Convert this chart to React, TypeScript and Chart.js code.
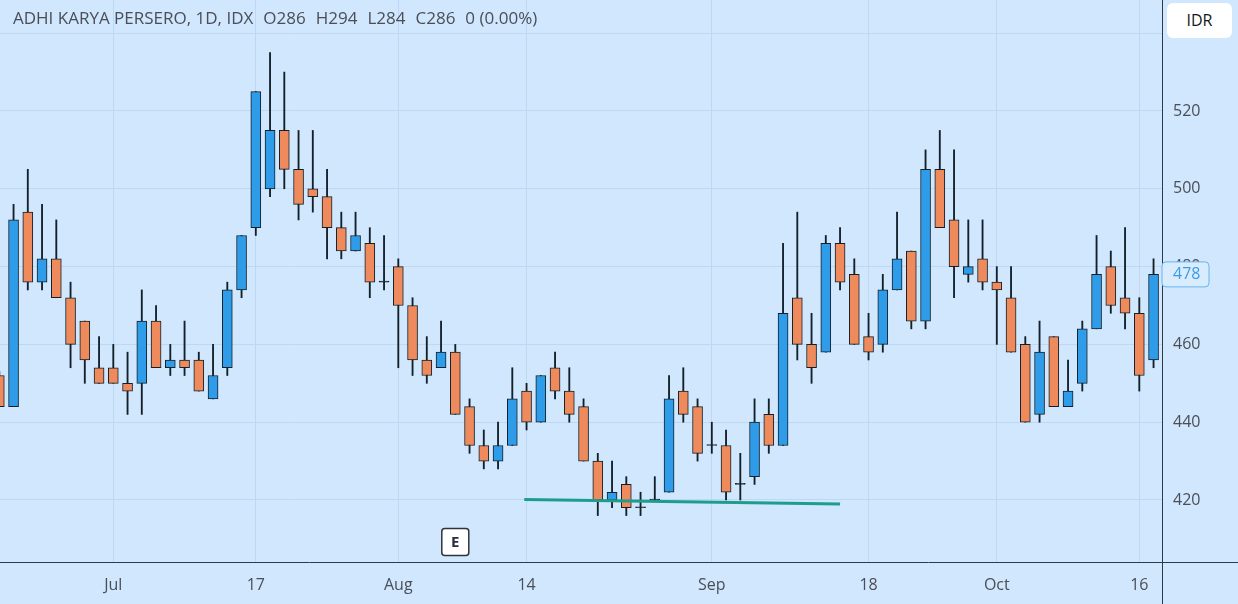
import { useEffect, useRef } from 'react';
import { Chart, registerables } from 'chart.js';

Chart.register(...registerables);

// ---- data ----
const FIRST_INDEX = -1;
const opens = [
  452, 444, 494, 476, 482, 472, 466, 454, 454, 450, 450, 466, 454, 456, 456, 446, 454, 474, 490, 500,
  515, 505, 500, 498, 490, 484, 486, 476, 480, 470, 456, 454, 458, 444, 434, 430, 434, 448, 440, 454,
  448, 444, 430, 420, 424, 418, 420, 422, 448, 444, 434, 434, 424, 426, 442, 434, 472, 460, 458, 486,
  478, 462, 460, 474, 484, 466, 505, 492, 478, 482, 476, 472, 460, 442, 462, 444, 450, 464, 480, 472,
  468, 456,
];
const highs = [
  453, 496, 505, 496, 492, 476, 466, 462, 460, 458, 474, 470, 460, 466, 458, 460, 476, 488, 525, 535,
  530, 515, 515, 505, 494, 494, 490, 488, 482, 472, 462, 466, 460, 446, 438, 440, 454, 450, 452, 458,
  454, 446, 432, 430, 426, 422, 426, 452, 454, 446, 440, 438, 432, 446, 446, 486, 494, 468, 488, 490,
  482, 468, 478, 494, 484, 510, 515, 510, 492, 492, 480, 480, 462, 466, 462, 456, 466, 488, 484, 490,
  472, 482,
];
const lows = [
  444, 444, 474, 474, 472, 454, 450, 450, 450, 442, 442, 454, 452, 452, 448, 446, 452, 472, 488, 498,
  500, 492, 494, 482, 482, 484, 472, 474, 454, 452, 450, 454, 442, 432, 428, 428, 434, 438, 440, 446,
  440, 430, 416, 418, 416, 416, 420, 422, 440, 430, 432, 420, 420, 424, 432, 434, 456, 450, 458, 474,
  460, 456, 458, 474, 464, 464, 490, 472, 476, 474, 460, 458, 440, 440, 444, 444, 448, 464, 468, 464,
  448, 454,
];
const closes = [
  444, 492, 476, 482, 472, 460, 456, 450, 450, 448, 466, 454, 456, 454, 448, 452, 474, 488, 525, 515,
  505, 496, 498, 490, 484, 488, 476, 476, 470, 456, 452, 458, 442, 434, 430, 434, 446, 440, 452, 448,
  442, 430, 420, 422, 418, 418, 420, 446, 442, 432, 434, 422, 424, 440, 434, 468, 460, 454, 486, 476,
  460, 458, 474, 482, 466, 505, 490, 480, 480, 476, 474, 458, 440, 458, 444, 448, 464, 478, 470, 468,
  452, 478,
];

const xTickIndex = [7, 17, 27, 36, 49, 60, 69, 79];
const xTickLabels = ['Jul', '17', 'Aug', '14', 'Sep', '18', 'Oct', '16'];
const yTicks = [420, 440, 460, 480, 500, 520, 540];
const hiddenYTick = 540;

const supportX = [35.84, 58.0];
const supportY = [420.1, 419.0];
const earningsIndex = 31;

const titleName = 'ADHI KARYA PERSERO, 1D, IDX';
const titleValues = ['O286', 'H294', 'L284', 'C286', '0 (0.00%)'];
const currencyLabel = 'IDR';

// ---- styles ----
const BG = '#d1e7fd';
const GRID = '#bcd8f3';
const UP = '#2e9ce9';
const DOWN = '#ee8a5b';
const EDGE = '#132029';
const AXIS = '#2c3a4a';
const TEXT = '#4a4e58';
const FONT = "'Open Sans', 'DejaVu Sans', sans-serif";

const W = 1238;
const H = 604;
const PLOT_RIGHT = 1162;
const PLOT_BOTTOM = 562;
const PX_PER_UNIT = 3.89;
const X0 = 13.55;
const X_STEP = 14.25;

export default function App() {
  const ref = useRef<HTMLCanvasElement | null>(null);

  useEffect(() => {
    if (!ref.current) return;
    const idx = closes.map((_, k) => FIRST_INDEX + k);
    const bodies = idx.map((x, k) => ({ x, y: [opens[k], closes[k]] }));
    const wicks = idx.map((x, k) => ({ x, y: [lows[k], highs[k]] }));
    const bodyColors = idx.map((_, k) =>
      closes[k] === opens[k] ? EDGE : closes[k] > opens[k] ? UP : DOWN
    );
    const lastClose = closes[closes.length - 1];

    const decor = {
      id: 'decor',
      afterDraw(chart: any) {
        const { ctx, chartArea, scales } = chart;
        const xs = scales.x;
        const ys = scales.y;
        ctx.save();
        // axis lines
        ctx.strokeStyle = AXIS;
        ctx.lineWidth = 1;
        ctx.beginPath();
        const rx = Math.round(chartArea.right) + 0.5;
        const by = Math.round(chartArea.bottom) + 0.5;
        ctx.moveTo(rx, 0);
        ctx.lineTo(rx, H);
        ctx.moveTo(0, by);
        ctx.lineTo(W, by);
        ctx.stroke();

        // earnings marker
        const ex = xs.getPixelForValue(earningsIndex);
        const ew = 27;
        const eTop = 528.5;
        ctx.beginPath();
        ctx.roundRect(ex - ew / 2, eTop, ew, ew, 3);
        ctx.fillStyle = '#ffffff';
        ctx.fill();
        ctx.lineWidth = 1.5;
        ctx.strokeStyle = '#2f333c';
        ctx.stroke();
        ctx.fillStyle = '#2a2e39';
        ctx.font = `bold 15px ${FONT}`;
        ctx.textAlign = 'center';
        ctx.textBaseline = 'middle';
        ctx.fillText('E', ex, eTop + ew / 2 + 1);

        // last price marker
        const py = ys.getPixelForValue(lastClose);
        const bx = chartArea.right;
        ctx.beginPath();
        ctx.roundRect(bx, py - 12.5, 47, 25, 4);
        ctx.fillStyle = '#d9ecfe';
        ctx.fill();
        ctx.lineWidth = 1;
        ctx.strokeStyle = '#64b4ef';
        ctx.stroke();
        ctx.fillStyle = '#3a9be6';
        ctx.font = `16px ${FONT}`;
        ctx.textAlign = 'left';
        ctx.fillText(String(lastClose), bx + 11, py);
        ctx.restore();
      },
    };

    const chart = new Chart(ref.current, {
      type: 'bar',
      data: {
        datasets: [
          {
            type: 'line',
            data: supportX.map((x, k) => ({ x, y: supportY[k] })),
            borderColor: '#1e9c8c',
            borderWidth: 3,
            pointRadius: 0,
            order: 0,
          } as any,
          {
            data: bodies as any,
            backgroundColor: bodyColors,
            borderColor: EDGE,
            borderWidth: 1,
            borderSkipped: false,
            barThickness: 10,
            minBarLength: 1,
            grouped: false,
            order: 1,
          } as any,
          {
            data: wicks as any,
            backgroundColor: EDGE,
            borderWidth: 0,
            barThickness: 1.2,
            grouped: false,
            order: 2,
          } as any,
        ],
      },
      options: {
        responsive: false,
        animation: false,
        devicePixelRatio: 1,
        events: [],
        layout: { padding: 0 },
        plugins: { legend: { display: false }, tooltip: { enabled: false } },
        scales: {
          x: {
            type: 'linear',
            position: 'bottom',
            offset: false,
            min: -X0 / X_STEP,
            max: (PLOT_RIGHT - X0) / X_STEP,
            grid: { color: GRID, drawTicks: false, offset: false },
            border: { display: false },
            afterBuildTicks: (s: any) => {
              s.ticks = xTickIndex.map((v) => ({ value: v }));
            },
            afterFit: (s: any) => {
              s.height = H - PLOT_BOTTOM;
              s.paddingLeft = 0;
              s.paddingRight = 0;
            },
            ticks: {
              autoSkip: false,
              maxRotation: 0,
              padding: 14,
              color: TEXT,
              font: { family: FONT, size: 16 },
              callback: (v: any) => {
                const i = xTickIndex.indexOf(Number(v));
                return i >= 0 ? xTickLabels[i] : '';
              },
            },
          },
          y: {
            type: 'linear',
            position: 'right',
            min: 420 - (PLOT_BOTTOM - 500) / PX_PER_UNIT,
            max: 520 + 111 / PX_PER_UNIT,
            grid: { color: GRID, drawTicks: false },
            border: { display: false },
            afterBuildTicks: (s: any) => {
              s.ticks = yTicks.map((v) => ({ value: v }));
            },
            afterFit: (s: any) => {
              s.width = W - PLOT_RIGHT;
              s.paddingTop = 0;
              s.paddingBottom = 0;
            },
            ticks: {
              padding: 11,
              color: TEXT,
              font: { family: FONT, size: 16 },
              callback: (v: any) => (Number(v) === hiddenYTick ? '' : String(v)),
            },
          },
        },
      },
      plugins: [decor],
    });
    return () => chart.destroy();
  }, []);

  return (
    <div
      style={{
        position: 'fixed',
        left: 0,
        top: 0,
        width: W,
        height: H,
        background: BG,
        overflow: 'hidden',
      }}
    >
      <canvas ref={ref} width={W} height={H} style={{ display: 'block' }} />
      <div
        style={{
          position: 'absolute',
          left: 13,
          top: 6,
          fontFamily: FONT,
          fontSize: 17,
          color: TEXT,
          whiteSpace: 'nowrap',
          pointerEvents: 'none',
        }}
      >
        <span>{titleName}</span>
        {titleValues.map((t) => (
          <span key={t} style={{ marginLeft: 10 }}>
            {t}
          </span>
        ))}
      </div>
      <div
        style={{
          position: 'absolute',
          left: 1167,
          top: 3,
          width: 65,
          height: 35,
          borderRadius: 6,
          background: '#ffffff',
          color: '#131722',
          fontFamily: FONT,
          fontSize: 16,
          lineHeight: '35px',
          textAlign: 'center',
        }}
      >
        {currencyLabel}
      </div>
    </div>
  );
}
